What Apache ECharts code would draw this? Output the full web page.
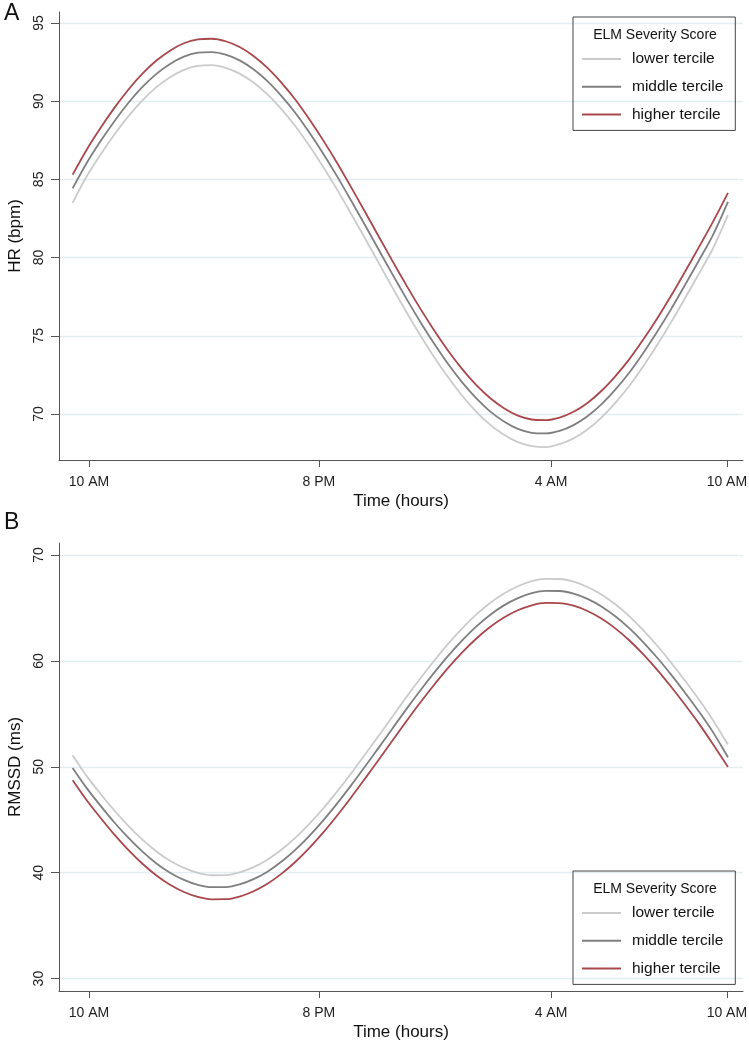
<!DOCTYPE html>
<html>
<head>
	<meta charset="utf-8" />
	<title>HR / RMSSD by ELM tercile</title>
	<script src="https://cdn.jsdelivr.net/npm/echarts@6/dist/echarts.min.js"></script>
	<style>
		body { margin: 0; background: #fff; }
		#chartmain { width: 749px; height: 1044px; }
	</style>
</head>
<body>
	<div id="chartmain"></div>
<script type="text/javascript">
	// hours since the start of the curve
	var hours = [0, 0.5, 1, 1.5, 2, 2.5, 3, 3.5, 4, 4.5, 5, 5.5, 6, 6.5, 7, 7.5, 8, 8.5, 9, 9.5, 10, 10.5, 11, 11.5,
		12, 12.5, 13, 13.5, 14, 14.5, 15, 15.5, 16, 16.5, 17, 17.5, 18, 18.5, 19, 19.5, 20, 20.5, 21, 21.5, 22, 22.5, 23, 23.55];
	var tickPos = [0.59, 8.85, 17.19, 23.51];
	var tickLabels = ['10 AM', '8 PM', '4 AM', '10 AM'];
	var names = ['lower tercile', 'middle tercile', 'higher tercile'];

	// A: HR (bpm)
	var hrLower = [83.5, 85.18, 86.58, 87.87, 89.03, 90.04, 90.88, 91.53, 92.0, 92.25, 92.3, 92.13, 91.76, 91.19, 90.43, 89.49,
		88.41, 87.16, 85.81, 84.36, 82.82, 81.25, 79.65, 78.06, 76.51, 75.02, 73.62, 72.33, 71.17, 70.16, 69.32, 68.67,
		68.2, 67.95, 67.88, 68.07, 68.44, 69.01, 69.77, 70.71, 71.79, 73.04, 74.39, 75.84, 77.38, 78.95, 80.55, 82.71];
	var hrMiddle = [84.42, 86.03, 87.43, 88.72, 89.88, 90.89, 91.73, 92.38, 92.85, 93.1, 93.14, 92.98, 92.61, 92.04, 91.28, 90.34,
		89.26, 88.01, 86.66, 85.21, 83.67, 82.1, 80.5, 78.91, 77.36, 75.87, 74.47, 73.18, 72.02, 71.01, 70.17, 69.52,
		69.05, 68.8, 68.76, 68.92, 69.29, 69.86, 70.62, 71.56, 72.64, 73.89, 75.24, 76.69, 78.23, 79.8, 81.4, 83.56];
	var hrHigher = [85.3, 86.88, 88.28, 89.57, 90.73, 91.74, 92.58, 93.23, 93.7, 93.95, 93.99, 93.83, 93.46, 92.89, 92.13, 91.19,
		90.11, 88.86, 87.51, 86.06, 84.52, 82.95, 81.35, 79.76, 78.21, 76.72, 75.32, 74.03, 72.87, 71.86, 71.02, 70.37,
		69.9, 69.65, 69.61, 69.77, 70.14, 70.71, 71.47, 72.41, 73.49, 74.74, 76.09, 77.54, 79.08, 80.65, 82.25, 84.14];

	// B: RMSSD (ms)
	var rmLower = [51.1, 49.14, 47.46, 45.87, 44.43, 43.14, 42.03, 41.13, 40.45, 39.98, 39.76, 39.77, 40.02, 40.52, 41.23, 42.16,
		43.28, 44.59, 46.05, 47.65, 49.35, 51.13, 52.94, 54.77, 56.6, 58.36, 60.04, 61.63, 63.07, 64.36, 65.47, 66.37,
		67.05, 67.52, 67.74, 67.73, 67.48, 66.98, 66.27, 65.34, 64.22, 62.91, 61.45, 59.85, 58.15, 56.37, 54.45, 52.1];
	var rmMiddle = [49.89, 48.01, 46.33, 44.74, 43.3, 42.01, 40.9, 40.0, 39.32, 38.85, 38.63, 38.64, 38.89, 39.39, 40.1, 41.03,
		42.15, 43.46, 44.92, 46.52, 48.22, 50.0, 51.81, 53.64, 55.47, 57.23, 58.91, 60.5, 61.94, 63.23, 64.34, 65.24,
		65.92, 66.39, 66.61, 66.6, 66.35, 65.85, 65.14, 64.21, 63.09, 61.78, 60.32, 58.72, 57.02, 55.24, 53.32, 50.9];
	var rmHigher = [48.73, 46.87, 45.19, 43.6, 42.16, 40.87, 39.76, 38.86, 38.18, 37.71, 37.49, 37.5, 37.75, 38.25, 38.96, 39.89,
		41.01, 42.32, 43.78, 45.38, 47.08, 48.86, 50.67, 52.5, 54.33, 56.09, 57.77, 59.36, 60.8, 62.09, 63.2, 64.1,
		64.78, 65.25, 65.47, 65.46, 65.21, 64.71, 64.0, 63.07, 61.95, 60.64, 59.18, 57.58, 55.88, 54.1, 52.18, 49.98];

	var hrTicks = [70, 75, 80, 85, 90, 95];
	var rmTicks = [30, 40, 50, 60, 70];

	var colors = ['#cbcbcb', '#7f7f7f', '#a8484d'];
	var font = 'Liberation Sans, Arial, sans-serif';

	function pairs(ys) {
		return hours.map((h, i) => [h, ys[i]]);
	}

	function xAx(idx) {
		return {
			type: 'value', gridIndex: idx, min: -0.49, max: 24.09,
			name: 'Time (hours)', nameLocation: 'middle', nameGap: 33, nameMoveOverlap: false,
			nameTextStyle: { fontFamily: font, fontSize: 17, color: '#111' },
			axisLine: { show: true, onZero: false, lineStyle: { color: '#555', width: 1 } },
			axisTick: { show: true, customValues: tickPos, length: 7, lineStyle: { color: '#555' } },
			axisLabel: {
				customValues: tickPos, margin: 15, fontFamily: font, fontSize: 14, color: '#222',
				formatter: function (v) { return tickLabels[tickPos.indexOf(v)]; }
			},
			splitLine: { show: false }
		};
	}

	function yAx(idx, min, max, ticks, name) {
		return {
			type: 'value', gridIndex: idx, min: min, max: max,
			name: name, nameLocation: 'middle', nameGap: 35, nameMoveOverlap: false,
			nameTextStyle: { fontFamily: font, fontSize: 17, color: '#111' },
			axisLine: { show: true, onZero: false, lineStyle: { color: '#555', width: 1 } },
			axisTick: { show: true, customValues: ticks, length: 8, lineStyle: { color: '#555' } },
			axisLabel: { customValues: ticks, rotate: 90, margin: 13, fontFamily: font, fontSize: 14, color: '#222' },
			splitLine: { show: true, lineStyle: { color: '#e4eef1', width: 1.3 } }
		};
	}

	function line(name, ys, idx, color) {
		return {
			name: name, type: 'line', xAxisIndex: idx, yAxisIndex: idx,
			data: pairs(ys), smooth: 0.3, showSymbol: false, symbol: 'none',
			lineStyle: { color: color, width: 1.8 }, itemStyle: { color: color },
			z: 3
		};
	}

	function legendBox(top) {
		return {
			orient: 'vertical', left: 573, top: top,
			data: names, icon: 'rect', itemWidth: 39, itemHeight: 2, itemGap: 11.7,
			padding: [34, 12, 8, 9],
			borderColor: '#444', borderWidth: 1,
			textStyle: { fontFamily: font, fontSize: 15.5, color: '#111', padding: [0, 0, 0, 6] },
			selectedMode: false
		};
	}

	var myChart = echarts.init(document.getElementById('chartmain'));
	var option = {
		backgroundColor: '#fff',
		animation: false,
		grid: [
			{ left: 59, right: 6, top: 12, height: 448, outerBoundsMode: 'none' },
			{ left: 59, right: 6, top: 543, height: 448, outerBoundsMode: 'none' }
		],
		xAxis: [xAx(0), xAx(1)],
		yAxis: [
			yAx(0, 67.06, 95.7, hrTicks, 'HR (bpm)'),
			yAx(1, 28.83, 71.13, rmTicks, 'RMSSD (ms)')
		],
		legend: [legendBox(17), legendBox(871)],
		series: [
			line(names[0], hrLower, 0, colors[0]),
			line(names[1], hrMiddle, 0, colors[1]),
			line(names[2], hrHigher, 0, colors[2]),
			line(names[0], rmLower, 1, colors[0]),
			line(names[1], rmMiddle, 1, colors[1]),
			line(names[2], rmHigher, 1, colors[2])
		],
		graphic: [
			{ type: 'text', left: 4, top: 2, style: { text: 'A', fontFamily: font, fontSize: 23, fill: '#111' } },
			{ type: 'text', left: 4, top: 511, style: { text: 'B', fontFamily: font, fontSize: 23, fill: '#111' } },
			{ type: 'text', x: 655, y: 35, style: { text: 'ELM Severity Score', fontFamily: font, fontSize: 14, fill: '#111', align: 'center', verticalAlign: 'middle' } },
			{ type: 'text', x: 655, y: 889, style: { text: 'ELM Severity Score', fontFamily: font, fontSize: 14, fill: '#111', align: 'center', verticalAlign: 'middle' } }
		]
	};
	myChart.setOption(option);
</script>
</body>
</html>
